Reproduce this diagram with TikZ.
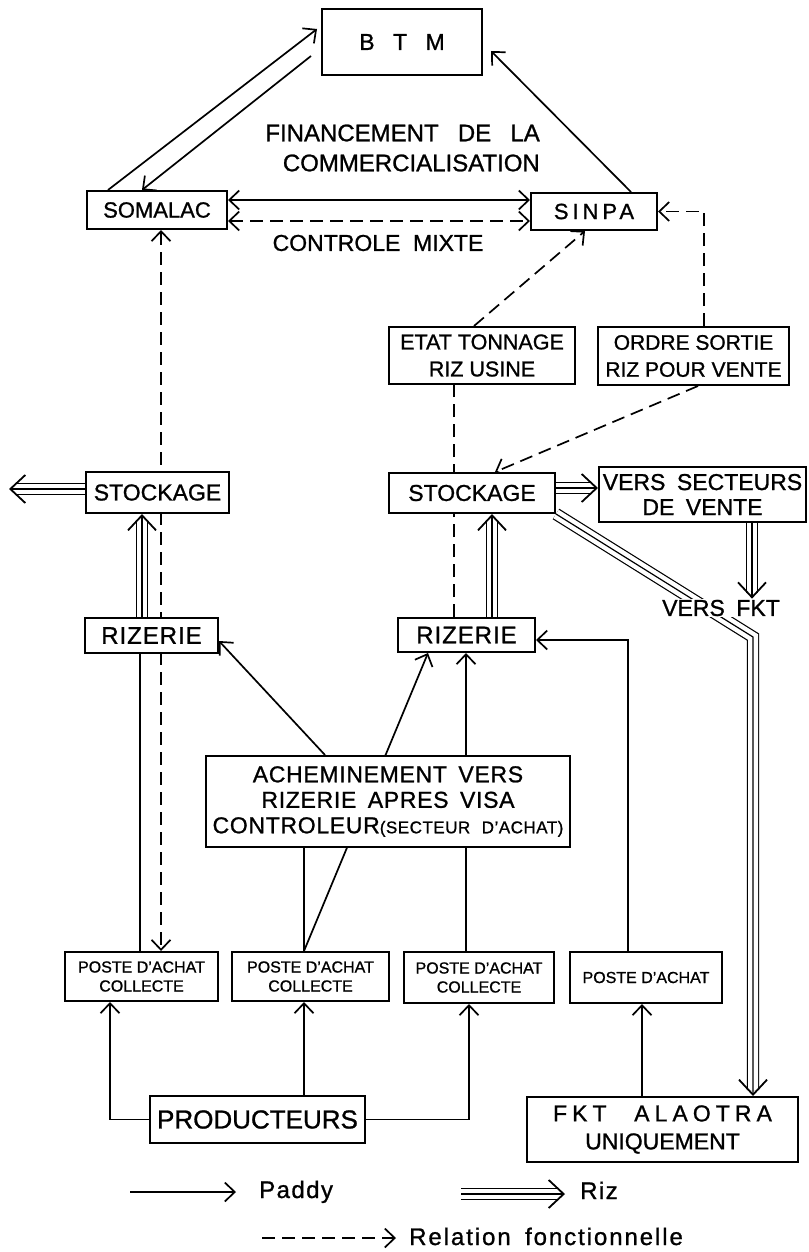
\documentclass[tikz,border=0pt]{standalone}
\usepackage{fontspec}
\setmainfont{Liberation Sans}[FakeBold=1]
\usepackage{tikz}
\usetikzlibrary{arrows.meta, positioning, calc, backgrounds}

\newcommand{\lettering}[3][0pt]{\fontsize{#2}{#3}\selectfont\spaceskip=#1\relax}
\newcommand{\tracked}[1]{\addfontfeature{LetterSpace=#1}}

\begin{document}
\begin{tikzpicture}[x=1pt, y=-1pt,
    >={Straight Barb[length=10pt, width=19pt]},
    box/.style={draw, line width=2pt, fill=white, inner sep=1pt, align=center},
    lbl/.style={fill=white, inner sep=1pt, align=center},
    fleche/.style={line width=1.7pt, ->},
    lien/.style={fleche, dash pattern=on 13pt off 7pt},
    riz/.style={line width=1.2pt, -{Straight Barb[length=15pt, width=28pt, line width=1.8pt]},
      preaction={draw, -, double=white, double distance=10pt, shorten >=6pt}},
  ]
  \useasboundingbox (0,0) rectangle (808,1252);

  % organismes
  \node[box, minimum width=160pt, minimum height=66pt, font={\lettering[.8em]{23}{28}}] (btm) at (402,42) {B T M};
  \node[lbl, anchor=east, align=right, font={\lettering[.8em]{24}{30}}] (fin) at (541,148) {FINANCEMENT DE LA\\COMMERCIALISATION};
  \node[box, minimum width=140pt, minimum height=38pt, font={\lettering{22}{28}}] (somalac) at (157,210) {SOMALAC};
  \node[box, minimum width=126pt, minimum height=37pt, font={\lettering{22}{28}\tracked{18}}] (sinpa) at (594,211.5) {SINPA};
  \node[lbl, font={\lettering[.55em]{23}{28}}] (mixte) at (378,243) {CONTROLE MIXTE};

  % documents
  \node[box, minimum width=186pt, minimum height=57pt, font={\lettering{21.5}{27}}] (etat) at (482,355.5) {ETAT TONNAGE\\RIZ USINE};
  \node[box, minimum width=191pt, minimum height=58pt, font={\lettering{21}{27}}] (ordre) at (693.5,356) {ORDRE SORTIE\\RIZ POUR VENTE};

  % stockage et rizeries
  \node[box, minimum width=143pt, minimum height=41pt, font={\lettering{23}{28}}] (stockL) at (157.5,492.5) {STOCKAGE};
  \node[box, minimum width=166pt, minimum height=40pt, font={\lettering{23}{28}}] (stockR) at (472,493) {STOCKAGE};
  \node[box, minimum width=207pt, minimum height=55pt, font={\lettering[.5em]{23}{25}}] (vente) at (702.5,494.5) {VERS SECTEURS\\DE VENTE};
  \node[lbl, font={\lettering[.5em]{23}{28}}] (versfkt) at (721,608) {VERS FKT};
  \node[box, minimum width=133pt, minimum height=35pt, font={\lettering{24}{28}\tracked{4}}] (rizL) at (151.5,635.5) {RIZERIE};
  \node[box, minimum width=137pt, minimum height=34pt, font={\lettering{24}{28}\tracked{4}}] (rizR) at (466.5,635) {RIZERIE};
  \node[box, minimum width=364pt, minimum height=91pt, font={\lettering[.5em]{23}{25.5}\tracked{3}}] (achem) at (388,801.5)
    {ACHEMINEMENT VERS\\RIZERIE APRES VISA\\CONTROLEUR{\fontsize{17}{25.5}\selectfont(SECTEUR D'ACHAT)}};

  % collecte
  \node[box, minimum width=153pt, minimum height=49pt, font={\lettering{16}{19}}] (poste1) at (141.5,976.5) {POSTE D'ACHAT\\COLLECTE};
  \node[box, minimum width=157pt, minimum height=49pt, font={\lettering{16}{19}}] (poste2) at (310.5,976.5) {POSTE D'ACHAT\\COLLECTE};
  \node[box, minimum width=150pt, minimum height=51pt, font={\lettering{16}{19}}] (poste3) at (479,977.5) {POSTE D'ACHAT\\COLLECTE};
  \node[box, minimum width=152pt, minimum height=51pt, font={\lettering{16}{19}}] (poste4) at (646,977.5) {POSTE D'ACHAT};
  \node[box, minimum width=215pt, minimum height=47pt, font={\lettering{26}{30}}] (prod) at (257.5,1119.5) {PRODUCTEURS};
  \node[box, minimum width=271pt, minimum height=65pt, font={\lettering{23}{28}}] (fkt) at (662.5,1129.5)
    {{\tracked{22}\spaceskip=1.2em\relax FKT ALAOTRA}\\UNIQUEMENT};

  \coordinate (sortieL) at (9,489);
  \coordinate (coude) at (753,637);

  \begin{scope}[on background layer]
    % financement
    \draw[fleche] ([xshift=-49pt]somalac.north) -- ([xshift=-4pt,yshift=-21pt]btm.north west);
    \draw[fleche] ([xshift=-10pt,yshift=-48pt]btm.north west) -- ([xshift=-15pt]somalac.north);
    \draw[fleche] ([xshift=37pt]sinpa.north) -- ([xshift=8pt,yshift=-43pt]btm.north east);
    \draw[fleche, <->] ([yshift=10pt]somalac.east) -- ([yshift=10pt]somalac.east -| sinpa.west);
    % relations fonctionnelles
    \draw[lien, <->] ([yshift=-11pt]somalac.east) -- ([yshift=-11pt]somalac.east -| sinpa.west);
    \draw[lien, <->] ([xshift=4pt]somalac.south) -- ([xshift=4pt]somalac.south |- poste1.north);
    \draw[lien] ([xshift=-8pt]etat.north) -- ([xshift=-9pt]sinpa.south);
    \draw[lien, -] ([xshift=-12.5pt]rizR.north) -- ([xshift=-12.5pt]rizR.north |- etat.south);
    \draw[lien] ([xshift=10.5pt]ordre.north) |- (sinpa.east);
    \draw[lien] ([xshift=4.5pt]ordre.south) -- ([xshift=23pt]stockR.north);
    % riz
    \draw[riz] ([yshift=3.5pt]stockL.west) -- (sortieL);
    \draw[riz] ([xshift=-9.5pt]rizL.north) -- ([xshift=-9.5pt]rizL.north |- stockL.south);
    \draw[riz] ([xshift=25.5pt]rizR.north) -- ([xshift=25.5pt]rizR.north |- stockR.south);
    \draw[riz] ([yshift=5pt]stockR.east) -- ([yshift=5pt]stockR.east -| vente.west);
    \draw[riz] ([xshift=49.5pt]vente.south) -- ([xshift=49.5pt]vente.south |- versfkt.north);
    \draw[riz] (stockR.south east) -- (coude) -- (coude |- fkt.north);
    % paddy
    \draw[fleche, -] ([xshift=-1.5pt]poste1.north) -- ([xshift=-1.5pt]poste1.north |- rizL.south);
    \draw[fleche] ([xshift=-63pt]achem.north) -- ([yshift=-5.5pt]rizL.east);
    \draw[fleche] ([xshift=-6.5pt]poste2.north) -- ([xshift=-38.5pt]rizR.south);
    \draw[fleche, -] ([xshift=-6.5pt]poste2.north) -- ([xshift=-6.5pt]poste2.north |- achem.south);
    \draw[fleche] ([xshift=-13pt]poste3.north) -- ([xshift=-13pt]poste3.north |- rizR.south);
    \draw[fleche] ([xshift=-18pt]poste4.north) |- ([yshift=-5pt]rizR.east);
    \draw[fleche] (prod.west) -| ([xshift=-31.5pt]poste1.south);
    \draw[fleche] ([xshift=46.5pt]prod.north) -- ([xshift=46.5pt]prod.north |- poste2.south);
    \draw[fleche] (prod.east) -| ([xshift=-10pt]poste3.south);
    \draw[fleche] ([xshift=-20.5pt]fkt.north) -- ([xshift=-20.5pt]fkt.north |- poste4.south);
  \end{scope}

  % legende
  \node[anchor=base west, inner sep=2pt, font={\lettering{24}{28}\tracked{6}}] (lgPaddy) at (257,1198) {Paddy};
  \node[anchor=base west, inner sep=2pt, font={\lettering{24}{28}\tracked{6}}] (lgRiz) at (578,1199) {Riz};
  \node[anchor=base west, inner sep=2pt, font={\lettering[.6em]{24}{28}\tracked{8}}] (lgRel) at (407,1245) {Relation fonctionnelle};
  \coordinate (lgPaddyA) at (130,1192);
  \coordinate (lgRizA) at (461,1194);
  \coordinate (lgRelA) at (262,1238);
  \draw[fleche] (lgPaddyA) -- ([xshift=-21pt]lgPaddyA -| lgPaddy.west);
  \draw[riz] (lgRizA) -- ([xshift=-13pt]lgRizA -| lgRiz.west);
  \draw[lien] (lgRelA) -- ([xshift=-11pt]lgRelA -| lgRel.west);
\end{tikzpicture}
\end{document}
